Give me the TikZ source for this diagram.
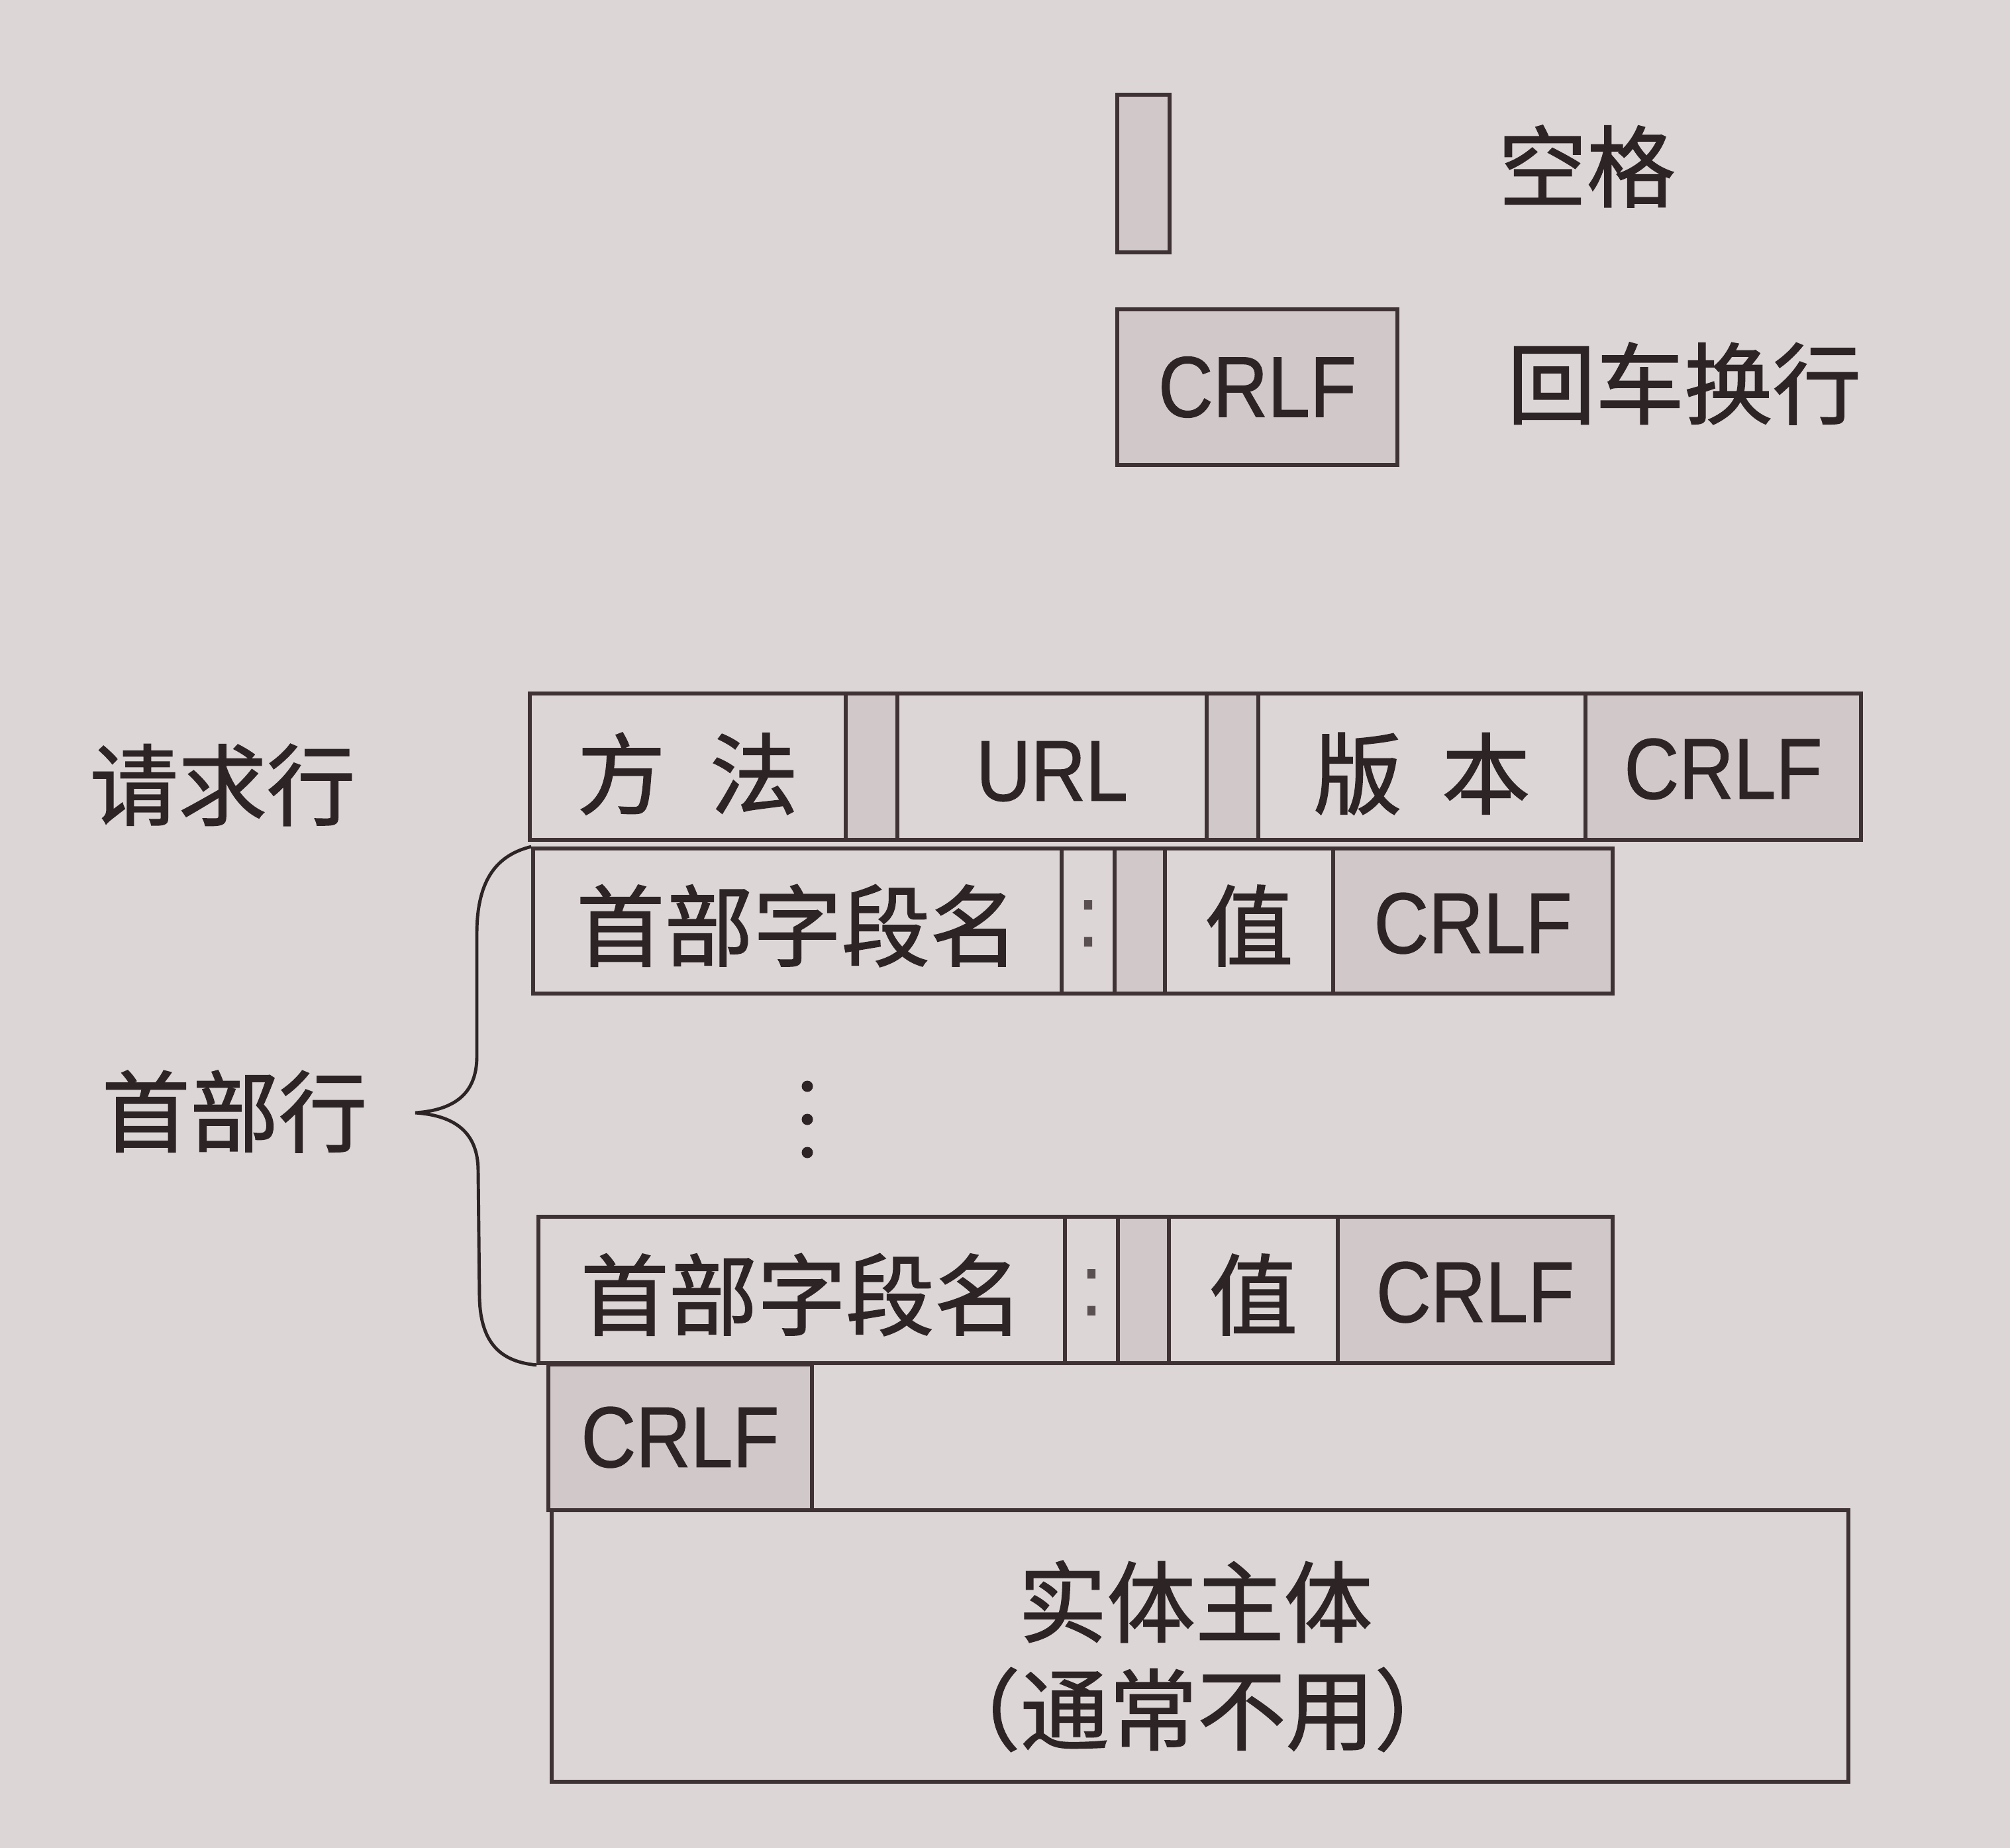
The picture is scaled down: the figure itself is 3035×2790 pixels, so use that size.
\documentclass[tikz,border=0pt]{standalone}
\usepackage{fontspec}
\setmainfont{Liberation Sans}
\newfontfamily\cjk[FakeBold=1.3]{Noto Sans CJK SC}
\newfontfamily\latn[FakeStretch=0.88,FakeBold=1]{Liberation Sans}
\usetikzlibrary{fit}
\definecolor{paper}{RGB}{220,214,214}
\definecolor{ink}{RGB}{62,50,52}
\definecolor{shade}{RGB}{208,200,201}
\definecolor{txt}{RGB}{45,36,38}
\definecolor{colon}{RGB}{90,80,82}
\begin{document}
\begin{tikzpicture}[x=0.01cm,y=-0.01cm,
  cell/.style={draw=ink, line width=1.6pt, inner sep=0pt},
  shaded/.style={cell, fill=shade},
  plain/.style={cell, fill=paper},
  lbl/.style={text=txt, font=\cjk\fontsize{38}{46}\selectfont, inner sep=0pt, align=center},
  lat/.style={text=txt, font=\latn\fontsize{37}{44}\selectfont, inner sep=0pt},
  dotnode/.style={circle, fill=txt, inner sep=0pt, minimum size=0.17cm},
  bracepath/.style={draw=txt, line width=1.4pt}
]
\fill[paper] (0,0) rectangle (3035,2790);
\useasboundingbox (0,0) rectangle (3035,2790);

% legend
\node[shaded, fit={(1687,143) (1766,381)}] (legsp) {};
\node[lbl] (legsptxt) at (2396,251) {空格};
\node[shaded, fit={(1687,467) (2110,702)}] (legcr) {};
\node[lat] (legcrt) at (legcr.center) {CRLF};
\node[lbl] (legcrtxt) at (2543,579) {回车换行};

% request line
\node[plain, fit={(800,1047) (1277,1268)}] (m) {};
\node[shaded, fit={(1277,1047) (1355,1268)}] (s1) {};
\node[plain, fit={(1355,1047) (1822,1268)}] (url) {};
\node[shaded, fit={(1822,1047) (1900,1268)}] (s2) {};
\node[plain, fit={(1900,1047) (2394,1268)}] (ver) {};
\node[shaded, fit={(2394,1047) (2810,1268)}] (r1) {};
\node[lbl] (mt) at ([yshift=-3pt]m.center) {方\hspace{0.5em}法};
\node[lat] (urlt) at ([yshift=-2pt]url.center) {URL};
\node[lbl] (vert) at ([yshift=-3pt]ver.center) {版\hspace{0.45em}本};
\node[lat] (r1t) at ([yshift=-1pt]r1.center) {CRLF};
\node[lbl] (reqlbl) at (336,1185) {请求行};

% header line 1
\node[plain, fit={(805,1281) (1603,1500)}] (h1n) {};
\node[plain, fit={(1603,1281) (1683,1500)}] (h1c) {};
\node[shaded, fit={(1683,1281) (1759,1500)}] (h1s) {};
\node[plain, fit={(1759,1281) (2013,1500)}] (h1v) {};
\node[shaded, fit={(2013,1281) (2435,1500)}] (h1r) {};
\node[lbl] (h1nt) at ([yshift=-2pt]h1n.center) {首部字段名};
\node[lat, text=colon] (h1ct) at ([yshift=-1pt]h1c.center) {:};
\node[lbl] (h1vt) at ([yshift=-2pt]h1v.center) {值};
\node[lat] (h1rt) at ([yshift=-1pt]h1r.center) {CRLF};

% dots
\node[dotnode] (d1) at (1219,1640) {};
\node[dotnode] (d2) at (1219,1690) {};
\node[dotnode] (d3) at (1219,1740) {};

% header line 2
\node[plain, fit={(813,1837) (1608,2058)}] (h2n) {};
\node[plain, fit={(1608,1837) (1688,2058)}] (h2c) {};
\node[shaded, fit={(1688,1837) (1765,2058)}] (h2s) {};
\node[plain, fit={(1765,1837) (2020,2058)}] (h2v) {};
\node[shaded, fit={(2020,1837) (2435,2058)}] (h2r) {};
\node[lbl] (h2nt) at ([yshift=-2pt]h2n.center) {首部字段名};
\node[lat, text=colon] (h2ct) at ([yshift=-1pt]h2c.center) {:};
\node[lbl] (h2vt) at ([yshift=-2pt]h2v.center) {值};
\node[lat] (h2rt) at ([yshift=-1pt]h2r.center) {CRLF};

\node[lbl] (hdrlbl) at (354,1678) {首部行};

% brace
\coordinate (tip) at (627,1680);
\draw[bracepath] (h1n.north west) .. controls (745,1292) and (720,1335) .. (720,1410)
  -- (720,1595) .. controls (720,1652) and (685,1676) .. (tip)
  .. controls (685,1684) and (722,1708) .. (722,1768)
  -- (724,1960) .. controls (726,2030) and (758,2056) .. (h2n.south west);

% final CRLF and body
\node[shaded, fit={(828,2060) (1226,2280)}] (r3) {};
\node[lat] (r3t) at (r3.center) {CRLF};
\node[plain, fit={(833,2280) (2791,2690)}] (body) {};
\node[lbl] (bodytxt1) at (1805,2418) {实体主体};
\node[lbl] (bodytxt2) at (1808,2581) {（通常不用）};
\end{tikzpicture}
\end{document}
